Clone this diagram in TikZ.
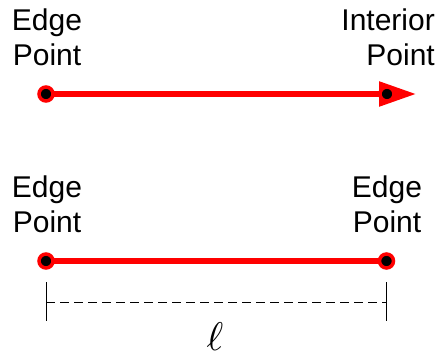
\documentclass[tikz,border=0pt]{standalone}
\usepackage{fontspec}
\setmainfont{Liberation Sans}
\usetikzlibrary{arrows.meta}
\tikzset{
  lbl/.style={font=\fontsize{30}{35}\selectfont, inner sep=0pt, align=center, anchor=base},
  redline/.style={draw=red, line width=5.5pt},
  dot/.style={circle, fill=black, draw=red, line width=3.5pt, minimum size=14pt, inner sep=0pt},
  tick/.style={draw=black, line width=0.9pt},
  dim/.style={draw=black, line width=0.9pt, dash pattern=on 9pt off 5pt}
}
\begin{document}
\begin{tikzpicture}[x=1pt,y=-1pt]
\useasboundingbox (0,0) rectangle (438,355);
% labels (anchored at the baseline of their last line)
\node[lbl] (t1) at (47,66) {Edge\\Point};
\node[lbl, align=right, anchor=base east] (t2) at (435,66) {Interior\\Point};
\node[lbl] (t3) at (387,232) {Edge\\Point};
\node[lbl] (t4) at (47,232) {Edge\\Point};
% top segment
\coordinate (p1) at (46,94);
\coordinate (p2) at (387,94);
\coordinate (tip) at (416,94);
\draw[redline, -{Triangle[length=37pt,width=24pt]}] (p1) -- (tip);
\node[dot] (d1) at (p1) {};
\node[dot] (d2) at (p2) {};
% bottom segment
\coordinate (q1) at (46,261);
\coordinate (q2) at (386.5,261);
\draw[redline] (q1) -- (q2);
\node[dot] (e1) at (q1) {};
\node[dot] (e2) at (q2) {};
% dimension
\coordinate (m1) at (46,302);
\coordinate (m2) at (386.5,302);
\draw[tick] (46,282) -- (46,321);
\draw[tick] (386.5,282) -- (386.5,321);
\draw[dim] (m1) -- (m2);
\node[inner sep=0pt] (ell) at (215,337) {\scalebox{4}{$\ell$}};
\end{tikzpicture}
\end{document}
